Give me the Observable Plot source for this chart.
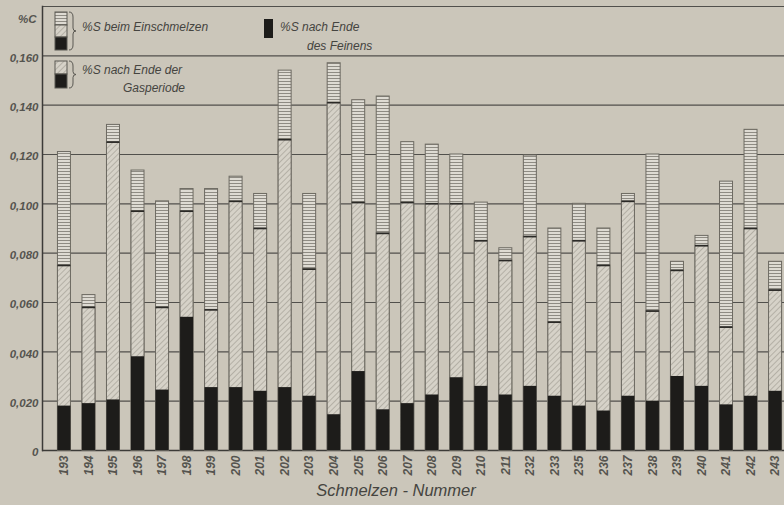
<!DOCTYPE html>
<html><head><meta charset="utf-8">
<script src="https://cdn.jsdelivr.net/npm/d3@7"></script>
<script src="https://cdn.jsdelivr.net/npm/@observablehq/plot@0.6"></script>
<style>
html,body{margin:0;padding:0;background:#cbc6ba;overflow:hidden;width:784px;height:505px;}
#chart{position:relative;}
#chart svg{max-width:none !important;}
</style></head><body>
<svg width="0" height="0" style="position:absolute"><defs>
<pattern id="stripes" width="4" height="3" patternUnits="userSpaceOnUse"><rect width="4" height="3" fill="#dedbd3"/><line x1="0" y1="0.5" x2="4" y2="0.5" stroke="#8e8b83" stroke-width="1"/></pattern>
<pattern id="hatch" width="4" height="4" patternUnits="userSpaceOnUse" patternTransform="rotate(45)"><rect width="4" height="4" fill="#d6d2c8"/><line x1="0" y1="0" x2="0" y2="4" stroke="#9e9a90" stroke-width="1.2"/></pattern>
</defs></svg>
<div id="chart"></div>
<script>
const melts = ["193","194","195","196","197","198","199","200","201","202","203","204","205","206","207","208","209","210","211","232","233","235","236","237","238","239","240","241","242","243"];
const einschmelzen = [0.121,0.063,0.132,0.1135,0.101,0.106,0.106,0.111,0.104,0.154,0.104,0.157,0.142,0.1435,0.125,0.124,0.120,0.1005,0.082,0.1196,0.090,0.100,0.090,0.104,0.120,0.0765,0.087,0.109,0.130,0.0765];
const gasperiode = [0.075,0.058,0.125,0.097,0.058,0.097,0.057,0.101,0.090,0.126,0.0735,0.141,0.1005,0.088,0.1005,0.100,0.100,0.085,0.077,0.0867,0.052,0.085,0.075,0.101,0.0565,0.073,0.083,0.050,0.090,0.065];
const feinen = [0.018,0.019,0.0205,0.038,0.0245,0.054,0.0255,0.0255,0.024,0.0255,0.022,0.0145,0.032,0.0165,0.019,0.0225,0.0295,0.026,0.0225,0.026,0.022,0.018,0.016,0.022,0.020,0.030,0.026,0.0185,0.022,0.024];
const yTicks = [0,0.02,0.04,0.06,0.08,0.10,0.12,0.14,0.16];
const gridTicks = [0.02,0.04,0.06,0.08,0.10,0.12,0.14,0.16,0.18];
const unitLabel = "%C";
const xTitle = "Schmelzen - Nummer";
const legendLabels = {
  ein: "%S beim Einschmelzen",
  fein: ["%S nach Ende", "des Feinens"],
  gas: ["%S nach Ende der", "Gasperiode"]
};

const data = melts.map((m, i) => ({m, e: einschmelzen[i], g: gasperiode[i], f: feinen[i]}));
const fmt = d => d === 0 ? "0" : d3.format(".3f")(d).replace(".", ",");
const FONT = "'Liberation Sans', 'DejaVu Sans', sans-serif";
const TXT = "#454440";
const TICK = "#55544f";

const plot = Plot.plot({
  width: 797, height: 505,
  marginLeft: 42, marginRight: 0, marginTop: 6, marginBottom: 55,
  style: {background: "transparent", fontFamily: FONT, fontStyle: "italic", color: TXT, maxWidth: "none"},
  x: {domain: melts, paddingInner: 0.47, paddingOuter: 0.63, round: false, axis: null},
  y: {domain: [0, 0.18], axis: null},
  marks: [
    Plot.gridY(gridTicks, {stroke: "#3c3b38", strokeOpacity: 0.85, strokeWidth: 1.2}),
    Plot.ruleY([0], {stroke: "#3c3b38", strokeWidth: 1.5}),
    Plot.frame({anchor: "left", stroke: "#3c3b38", strokeWidth: 1.5}),
    Plot.barY(data, {x: "m", y: "e", fill: "url(#stripes)", stroke: "#6d6a62", strokeWidth: 1}),
    Plot.barY(data, {x: "m", y: "g", fill: "url(#hatch)", stroke: "#6d6a62", strokeWidth: 1}),
    Plot.tickY(data, {x: "m", y: "g", stroke: "#2a2926", strokeWidth: 1.6}),
    Plot.barY(data, {x: "m", y: "f", fill: "#1d1c1a"}),
    Plot.axisY(yTicks, {tickFormat: fmt, tickSize: 0, tickPadding: 4, dy: 2, fontSize: 11.5, fontWeight: "bold", fill: TICK, label: null}),
    Plot.text([unitLabel], {frameAnchor: "top-left", dx: -6, dy: 8, textAnchor: "end", fontSize: 11.5, fontWeight: "bold", fill: TICK}),
    Plot.axisX({tickRotate: -90, tickSize: 0, tickPadding: 5, fontSize: 12, fontWeight: "bold", fill: TICK, label: null}),
    Plot.text([xTitle], {frameAnchor: "bottom", dx: -24, dy: 45, fontSize: 16.5, fill: TXT})
  ]
});
document.getElementById("chart").appendChild(plot);

// Legend
const svg = d3.select(plot);
const lg = svg.append("g").attr("font-family", FONT).attr("font-style", "italic").attr("fill", TXT)
  .attr("font-size", 12).attr("text-anchor", "start");
function icon(x, y, parts) {
  let yy = y;
  parts.forEach(([fill, h]) => {
    lg.append("rect").attr("x", x).attr("y", yy).attr("width", 12).attr("height", h)
      .attr("fill", fill).attr("stroke", "#5a5852").attr("stroke-width", 1);
    yy += h;
  });
}
function brace(x, y0, y1) {
  const m = (y0 + y1) / 2;
  lg.append("path").attr("d", `M${x},${y0} Q${x+4},${y0} ${x+4},${y0+5} L${x+4},${m-3} Q${x+4},${m} ${x+7},${m} Q${x+4},${m} ${x+4},${m+3} L${x+4},${y1-5} Q${x+4},${y1} ${x},${y1}`)
    .attr("fill", "none").attr("stroke", "#5a5852").attr("stroke-width", 1);
}
icon(55, 12, [["url(#stripes)", 13], ["url(#hatch)", 12], ["#1d1c1a", 13]]);
brace(69, 12, 50);
lg.append("text").attr("x", 82).attr("y", 31).text(legendLabels.ein);
icon(55, 61, [["url(#hatch)", 13], ["#1d1c1a", 14]]);
brace(69, 61, 88);
lg.append("text").attr("x", 82).attr("y", 74).text(legendLabels.gas[0]);
lg.append("text").attr("x", 123).attr("y", 92).text(legendLabels.gas[1]);
lg.append("rect").attr("x", 264).attr("y", 19).attr("width", 9).attr("height", 19).attr("fill", "#1d1c1a");
lg.append("text").attr("x", 280).attr("y", 31).text(legendLabels.fein[0]);
lg.append("text").attr("x", 307).attr("y", 50).text(legendLabels.fein[1]);
</script>
</body></html>
